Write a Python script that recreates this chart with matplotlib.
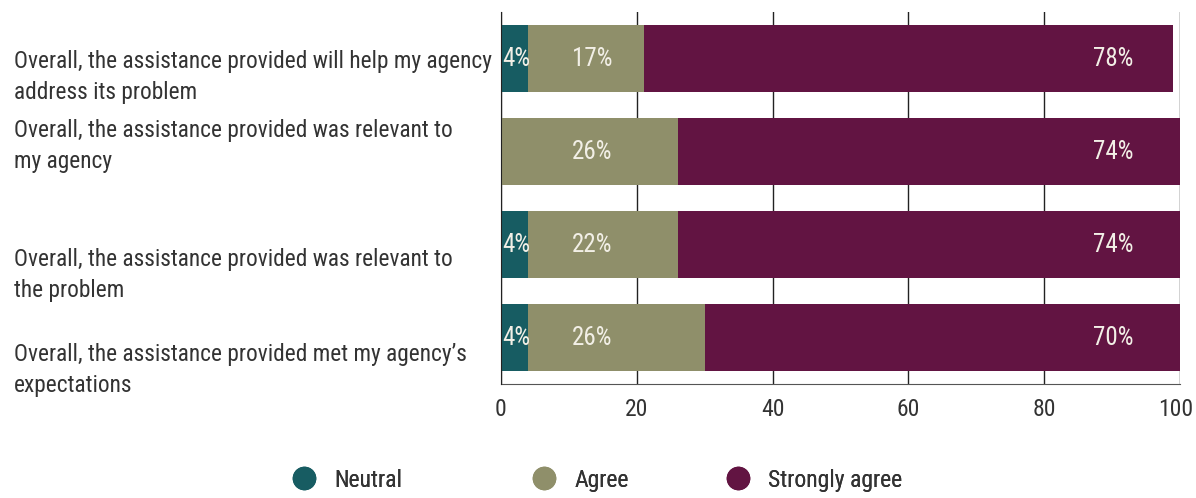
import matplotlib
matplotlib.use("Agg")
import matplotlib.pyplot as plt
from matplotlib.lines import Line2D
import matplotlib.transforms as mtransforms
import numpy as np

plt.rcParams['font.family'] = ['Roboto Condensed', 'Liberation Sans Narrow', 'Roboto', 'DejaVu Sans']

categories = [
    "Overall, the assistance provided will help my agency\naddress its problem",
    "Overall, the assistance provided was relevant to\nmy agency",
    "Overall, the assistance provided was relevant to\nthe problem",
    "Overall, the assistance provided met my agency\u2019s\nexpectations",
]
series_names = ["Neutral", "Agree", "Strongly agree"]
neutral = [4, 0, 4, 4]
agree = [17, 26, 22, 26]
strongly = [78, 74, 74, 70]
xticks = [0, 20, 40, 60, 80, 100]

colors = ["#175c62", "#8f8f6a", "#621442"]
label_color = "#f2efe6"
text_color = "#333333"

fig = plt.figure(figsize=(11.96, 4.98), dpi=100)
ax = fig.add_axes([501/1196, 1-384/498, (1180-501)/1196, (384-12)/498])

y = np.arange(len(categories))
left = np.zeros(len(categories))
label_x = [2.3, 13.4, 90.1]
for vals, col, lx in zip([neutral, agree, strongly], colors, label_x):
    vals = np.array(vals, dtype=float)
    ax.barh(y, vals, left=left, height=0.72, color=col, zorder=3)
    for yi, v in zip(y, vals):
        if v > 0:
            ax.text(lx, yi, f"{int(v)}%", ha='center', va='center',
                    color=label_color, fontsize=18, zorder=4)
    left += vals

ax.set_xlim(0, 100)
ax.set_ylim(len(categories)-0.5, -0.5)
ax.set_xticks(xticks)
ax.set_xticklabels([str(t) for t in xticks], fontsize=17, color=text_color)
ax.tick_params(axis='x', length=0, pad=10)
last = ax.get_xticklabels()[-1]
last.set_transform(last.get_transform() + mtransforms.ScaledTranslation(-4/100, 0, fig.dpi_scale_trans))
ax.set_yticks([])
ax.grid(axis='x', color='#222222', linewidth=1.0, zorder=0)
for s in ['top', 'right']:
    ax.spines[s].set_visible(False)
ax.spines['left'].set_color('#222222')
ax.spines['bottom'].set_color('#555555')
ax.spines['left'].set_zorder(5)

# category labels
trans = mtransforms.blended_transform_factory(fig.transFigure, ax.transData)
offsets = [0.2, -0.06, 0.33, 0.35]
for yi, cat, off in zip(y, categories, offsets):
    ax.text(14/1196, yi + off, cat, transform=trans, ha='left', va='center',
            fontsize=16.8, color=text_color, linespacing=1.44)

# legend
leg_x = [304, 544, 738]
for name, col, lx in zip(series_names, colors, leg_x):
    h = Line2D([], [], marker='o', linestyle='none', markersize=16,
               markerfacecolor=col, markeredgecolor=col)
    lg = fig.legend([h], [name], loc='center left',
                    bbox_to_anchor=((lx-12)/1196, 1-480/498),
                    frameon=False, fontsize=17, handlelength=1.0,
                    handletextpad=0.8, borderpad=0, borderaxespad=0)
    for t in lg.get_texts():
        t.set_color(text_color)
    fig.add_artist(lg)

fig.savefig("out.png", dpi=100)
